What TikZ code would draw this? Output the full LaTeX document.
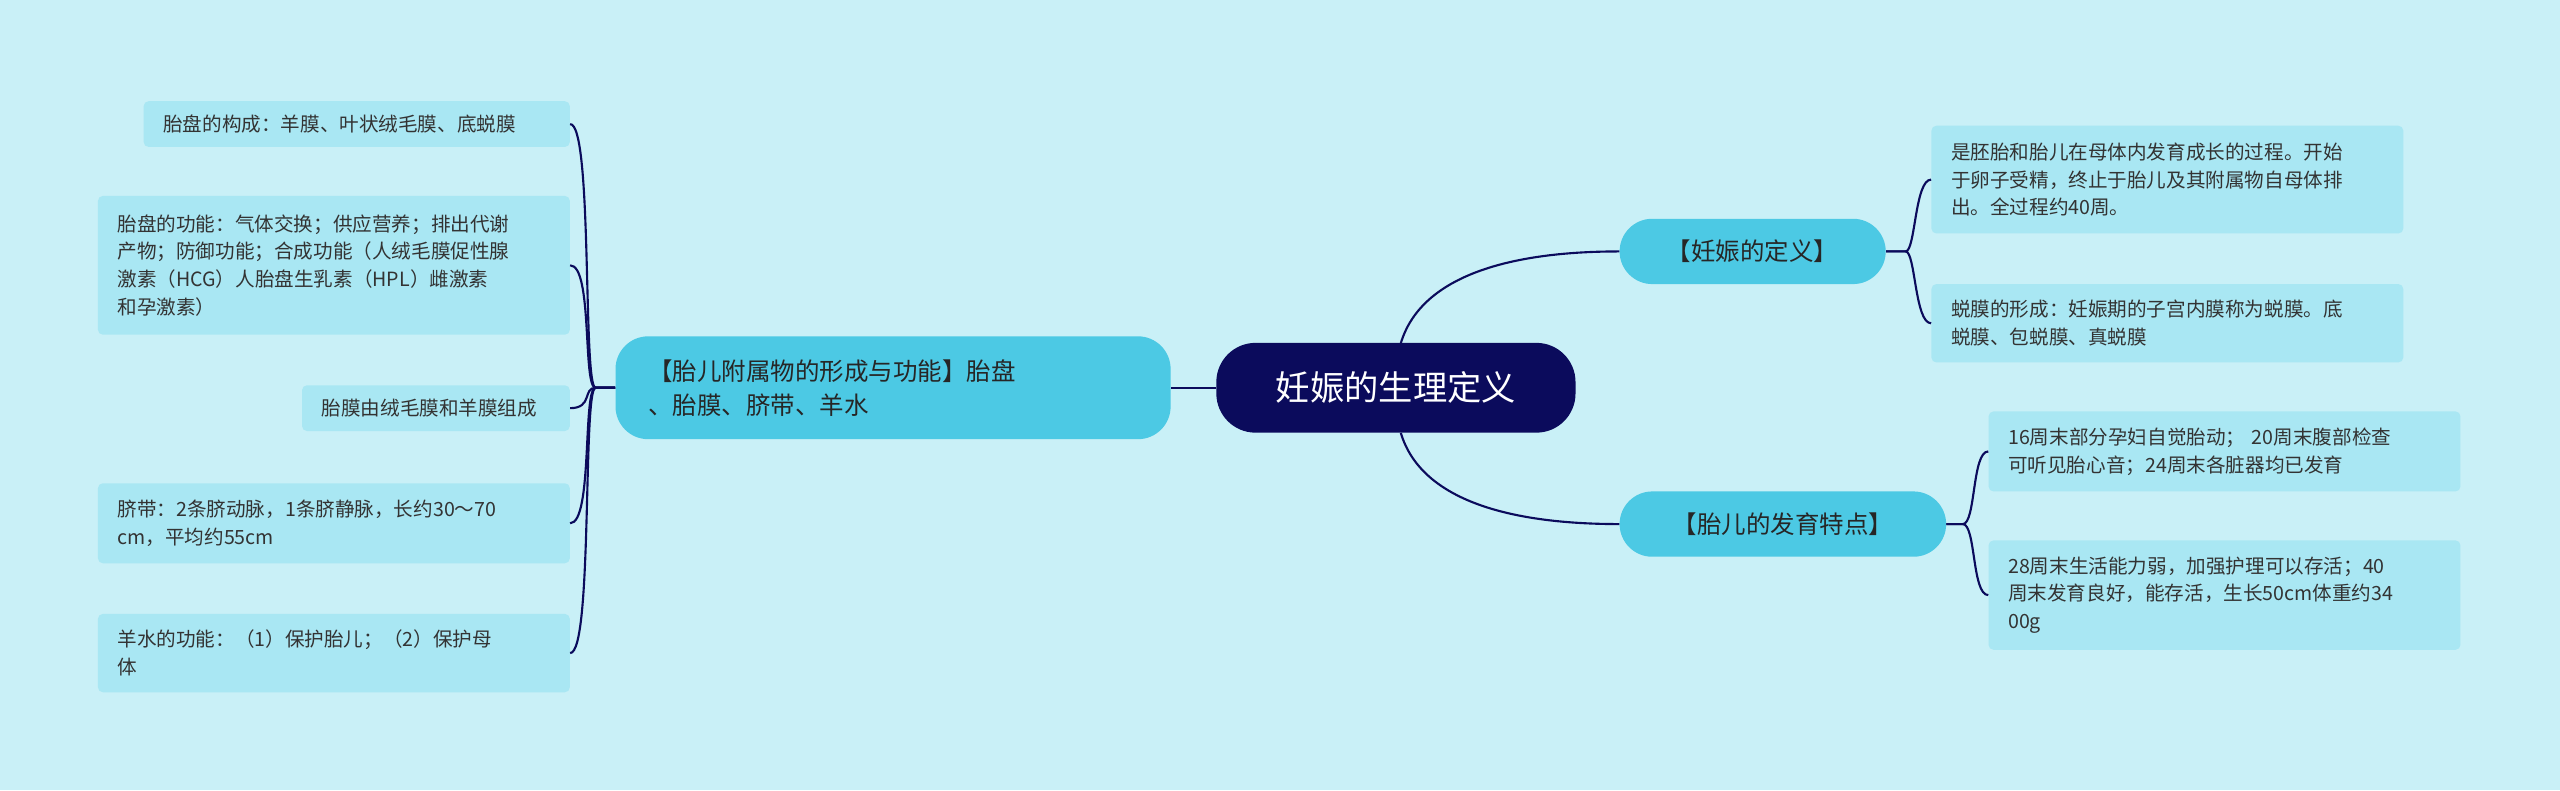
\documentclass[tikz,border=0pt]{standalone}
\usepackage{fontspec}
\setmainfont{Noto Sans CJK SC}
\definecolor{bg}{HTML}{C9F0F7}
\definecolor{navy}{HTML}{0B0B5C}
\definecolor{mid}{HTML}{4CC9E4}
\definecolor{leaf}{HTML}{A9E7F3}
\begin{document}
\begin{tikzpicture}[x=1pt,y=-1pt,
 leafbox/.style={fill=leaf,rounded corners=3pt,inner sep=0pt,text width=#1,align=left,font=\fontsize{12}{17}\selectfont,text=black!80},
 midbox/.style={fill=mid,rounded corners=20pt,inner sep=0pt,font=\fontsize{15}{21}\selectfont,text=black!85},
 link/.style={draw=navy,line width=1.3pt}]
\fill[bg] (0,0) rectangle (1568,484);
\useasboundingbox (0,0) rectangle (1568,484);
\node[fill=navy,rounded corners=24pt,minimum width=220pt,minimum height=55pt,text=white,font=\fontsize{21}{25}\selectfont] (root) at (855,237.5) {妊娠的生理定义};
\node[midbox,minimum width=340pt,minimum height=63pt,text width=300pt,align=left] (lm) at (547,237.5) {【胎儿附属物的形成与功能】胎盘\\、胎膜、脐带、羊水};
\node[midbox,minimum width=163pt,minimum height=40pt] (r1) at (1073.5,154) {【妊娠的定义】};
\node[midbox,minimum width=200pt,minimum height=40pt] (r2) at (1092,321) {【胎儿的发育特点】};
\node[leafbox=277pt,minimum width=289pt,minimum height=66pt] (a1) at (1327.5,110) {\hspace*{6pt}是胚胎和胎儿在母体内发育成长的过程。开始\\\hspace*{6pt}于卵子受精，终止于胎儿及其附属物自母体排\\\hspace*{6pt}出。全过程约40周。};
\node[leafbox=277pt,minimum width=289pt,minimum height=48pt] (a2) at (1327.5,198) {\hspace*{6pt}蜕膜的形成：妊娠期的子宫内膜称为蜕膜。底\\\hspace*{6pt}蜕膜、包蜕膜、真蜕膜};
\node[leafbox=277pt,minimum width=289pt,minimum height=49pt] (b1) at (1362.5,276.5) {\hspace*{6pt}16周末部分孕妇自觉胎动； 20周末腹部检查\\\hspace*{6pt}可听见胎心音；24周末各脏器均已发育};
\node[leafbox=277pt,minimum width=289pt,minimum height=67pt] (b2) at (1362.5,364.5) {\hspace*{6pt}28周末生活能力弱，加强护理可以存活；40\\\hspace*{6pt}周末发育良好，能存活，生长50cm体重约34\\\hspace*{6pt}00g};
\node[leafbox=249pt,minimum width=261pt,minimum height=28pt] (l1) at (218.5,76) {\hspace*{6pt}胎盘的构成：羊膜、叶状绒毛膜、底蜕膜};
\node[leafbox=277pt,minimum width=289pt,minimum height=85pt] (l2) at (204.5,162.5) {\hspace*{6pt}胎盘的功能：气体交换；供应营养；排出代谢\\\hspace*{6pt}产物；防御功能；合成功能（人绒毛膜促性腺\\\hspace*{6pt}激素（HCG）人胎盘生乳素（HPL）雌激素\\\hspace*{6pt}和孕激素）};
\node[leafbox=152pt,minimum width=164pt,minimum height=28pt] (l3) at (267,250) {\hspace*{6pt}胎膜由绒毛膜和羊膜组成};
\node[leafbox=277pt,minimum width=289pt,minimum height=49pt] (l4) at (204.5,320.5) {\hspace*{6pt}脐带：2条脐动脉，1条脐静脉，长约30～70\\\hspace*{6pt}cm，平均约55cm};
\node[leafbox=277pt,minimum width=289pt,minimum height=48pt] (l5) at (204.5,400) {\hspace*{6pt}羊水的功能：（1）保护胎儿；（2）保护母\\\hspace*{6pt}体};
\draw[link] (root.west) -- (lm.east);
\draw[link] (root.south) ++(3,-55) .. controls +(12,-40) and +(-70,0) .. (r1.west);
\draw[link] (root.south) ++(3,0) .. controls +(12,40) and +(-70,0) .. (r2.west);
\foreach \n in {a1,a2} \draw[link] (r1.east) -- ++(12,0) .. controls +(6,0) and +(-10,0) .. (\n.west);
\foreach \n in {b1,b2} \draw[link] (r2.east) -- ++(10,0) .. controls +(8,0) and +(-10,0) .. (\n.west);
\foreach \n in {l1,l2,l3,l4,l5} \draw[link] (lm.west) -- ++(-12,0) .. controls +(-8,0) and +(14,0) .. (\n.east);
\end{tikzpicture}
\end{document}
